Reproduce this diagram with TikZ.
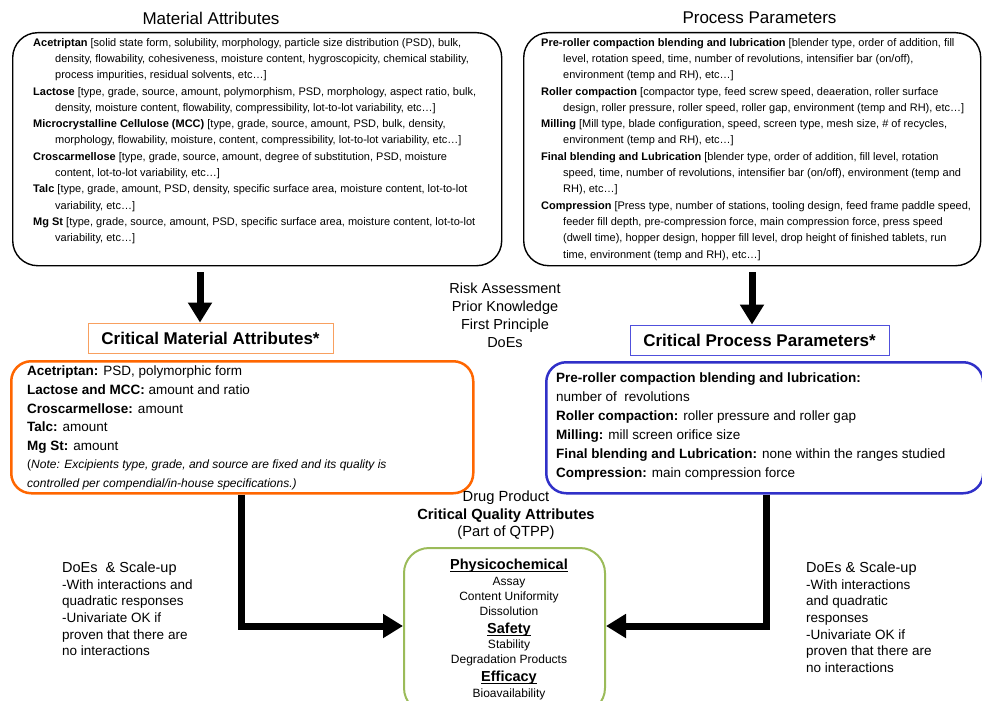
\documentclass[tikz,border=0pt]{standalone}
\usepackage{fontspec}
\setmainfont{Liberation Sans}
\usetikzlibrary{arrows.meta,positioning}

\definecolor{cmaorange}{RGB}{255,102,0}
\definecolor{cmalight}{RGB}{248,160,96}
\definecolor{cppblue}{RGB}{48,48,200}
\definecolor{cpplight}{RGB}{80,80,220}
\definecolor{cqagreen}{RGB}{155,187,89}
\newcommand{\ind}{\hspace*{22pt}}
\newcommand{\qahead}[1]{{\fontsize{14.5}{15}\selectfont\bfseries\underline{\raisebox{0pt}[\height][0pt]{#1}}}}

\begin{document}
\begin{tikzpicture}[x=1pt, y=-1pt,
    bigbox/.style       = {draw=black, line width=1.4pt, rounded corners=25pt, anchor=north west, inner sep=0pt},
    critbox/.style      = {line width=2.5pt, rounded corners=20pt, anchor=north west, inner sep=0pt},
    titlebox/.style     = {draw, line width=0.9pt, inner sep=0pt, font=\fontsize{17}{20}\selectfont\bfseries},
    heading/.style      = {inner sep=0pt, font=\fontsize{17}{20}\selectfont},
    listtext/.style     = {anchor=north west, align=left, inner sep=0pt, font=\fontsize{11}{16.3}\selectfont},
    crittext/.style     = {anchor=north west, align=left, inner sep=0pt},
    midtext/.style      = {anchor=north, align=center, inner sep=0pt},
    %sidetext/.style    = {anchor=north west, align=left, inner sep=0pt},
    fatarrow/.style     = {line width=7pt, line join=miter, -{Triangle[length=20pt,width=23pt]}},
    ]

\clip (0,0) rectangle (982,701);

% inputs
\node[heading] (mat-head) at (211,18) {Material Attributes};
\node[heading] (proc-head) at (759.5,18) {Process Parameters};
\node[bigbox, minimum width=489pt, minimum height=233pt] (mat-box) at (12,32) {};
\node[bigbox, minimum width=457pt, minimum height=233pt] (proc-box) at (523,32) {};

\node[listtext] (mat-list) at (33,38) {
    \textbf{Acetriptan} [solid state form, solubility, morphology, particle size distribution (PSD), bulk,\\
    \ind density, flowability, cohesiveness, moisture content, hygroscopicity, chemical stability,\\
    \ind process impurities, residual solvents, etc…]\\
    \textbf{Lactose} [type, grade, source, amount, polymorphism, PSD, morphology, aspect ratio, bulk,\\
    \ind density, moisture content, flowability, compressibility, lot-to-lot variability, etc…]\\
    \textbf{Microcrystalline Cellulose (MCC)} [type, grade, source, amount, PSD, bulk, density,\\
    \ind morphology, flowability, moisture, content, compressibility, lot-to-lot variability, etc…]\\
    \textbf{Croscarmellose} [type, grade, source, amount, degree of substitution, PSD, moisture\\
    \ind content, lot-to-lot variability, etc…]\\
    \textbf{Talc} [type, grade, amount, PSD, density, specific surface area, moisture content, lot-to-lot\\
    \ind variability, etc…]\\
    \textbf{Mg St} [type, grade, source, amount, PSD, specific surface area, moisture content, lot-to-lot\\
    \ind variability, etc…]
};

\node[listtext] (proc-list) at (541,38) {
    \textbf{Pre-roller compaction blending and lubrication} [blender type, order of addition, fill\\
    \ind level, rotation speed, time, number of revolutions, intensifier bar (on/off),\\
    \ind environment (temp and RH), etc…]\\
    \textbf{Roller compaction} [compactor type, feed screw speed, deaeration, roller surface\\
    \ind design, roller pressure, roller speed, roller gap, environment (temp and RH), etc…]\\
    \textbf{Milling} [Mill type, blade configuration, speed, screen type, mesh size, \# of recycles,\\
    \ind environment (temp and RH), etc…]\\
    \textbf{Final blending and Lubrication} [blender type, order of addition, fill level, rotation\\
    \ind speed, time, number of revolutions, intensifier bar (on/off), environment (temp and\\
    \ind RH), etc…]\\
    \textbf{Compression} [Press type, number of stations, tooling design, feed frame paddle speed,\\
    \ind feeder fill depth, pre-compression force, main compression force, press speed\\
    \ind (dwell time), hopper design, hopper fill level, drop height of finished tablets, run\\
    \ind time, environment (temp and RH), etc…]
};

% critical attributes and parameters
\node[titlebox, draw=cmalight, minimum width=245pt, minimum height=30pt] (cma-title) at (210.5,338) {Critical Material Attributes*};
\node[titlebox, draw=cpplight, minimum width=259pt, minimum height=30pt] (cpp-title) at (759.5,340) {Critical Process Parameters*};

\node[critbox, draw=cmaorange, minimum width=462pt, minimum height=132pt] (cma-box) at (10,360) {};
\node[critbox, draw=cppblue, minimum width=437pt, minimum height=131pt] (cpp-box) at (545,361) {};

\node[crittext, font=\fontsize{13.5}{18.6}\selectfont] (cma-list) at (27,366) {
    \textbf{Acetriptan:} PSD, polymorphic form\\
    \textbf{Lactose and MCC:} amount and ratio\\
    \textbf{Croscarmellose:} amount\\
    \textbf{Talc:} amount\\
    \textbf{Mg St:} amount\\
    {\fontsize{12}{18.6}\selectfont(\textit{Note: Excipients type, grade, and source are fixed and its quality is}}\\
    {\fontsize{12}{18.6}\selectfont\textit{controlled per compendial/in-house specifications.)}}
};

\node[crittext, font=\fontsize{13.5}{19}\selectfont] (cpp-list) at (556,373) {
    \textbf{Pre-roller compaction blending and lubrication:}\\
    number of\ \ revolutions\\
    \textbf{Roller compaction:} roller pressure and roller gap\\
    \textbf{Milling:} mill screen orifice size\\
    \textbf{Final blending and Lubrication:} none within the ranges studied\\
    \textbf{Compression:} main compression force
};

\node[midtext, font=\fontsize{14.5}{18}\selectfont] (risk-text) at (505,283) {Risk Assessment\\Prior Knowledge\\First Principle\\DoEs};

% quality attributes
\node[midtext, font=\fontsize{14.7}{17.5}\selectfont] (cqa-head) at (506,491) {Drug Product\\\textbf{Critical Quality Attributes}\\(Part of QTPP)};
\node[draw=cqagreen, line width=2pt, rounded corners=25pt, anchor=north west, minimum width=201pt, minimum height=165pt, inner sep=0pt] (cqa-box) at (403,547) {};
\node[midtext, font=\fontsize{12}{15}\selectfont] (cqa-list) at (509,559) {
    \qahead{Physicochemical}\\[1pt]
    Assay\\Content Uniformity\\Dissolution\\[3pt]
    \qahead{Safety}\\
    Stability\\Degradation Products\\[3pt]
    \qahead{Efficacy}\\[1pt]
    Bioavailability
};

\node[crittext, font=\fontsize{13.5}{16.6}\selectfont] (doe-left) at (62,562) {
    {\fontsize{14.5}{16.6}\selectfont DoEs\ \ \& Scale-up}\\
    -With interactions and\\quadratic responses\\-Univariate OK if\\proven that there are\\no interactions
};
\node[crittext, font=\fontsize{13.5}{16.6}\selectfont] (doe-right) at (806,562) {
    {\fontsize{14.5}{16.6}\selectfont DoEs \& Scale-up}\\
    -With interactions\\and quadratic\\responses\\-Univariate OK if\\proven that there are\\no interactions
};

% connectors
\coordinate (arrow-l) at (200,300);
\coordinate (arrow-r) at (752,300);
\coordinate (bend-l) at (241,626);
\coordinate (bend-r) at (766,626);

\draw[fatarrow, shorten <=6pt] (mat-box.south -| arrow-l) -- (cma-title.north -| arrow-l);
\draw[fatarrow, shorten <=6pt] (proc-box.south -| arrow-r) -- (cpp-title.north -| arrow-r);
\draw[fatarrow] (cma-box.south -| bend-l) |- (cqa-box.west |- bend-l);
\draw[fatarrow] (cpp-box.south -| bend-r) |- (cqa-box.east |- bend-r);

\end{tikzpicture}
\end{document}
